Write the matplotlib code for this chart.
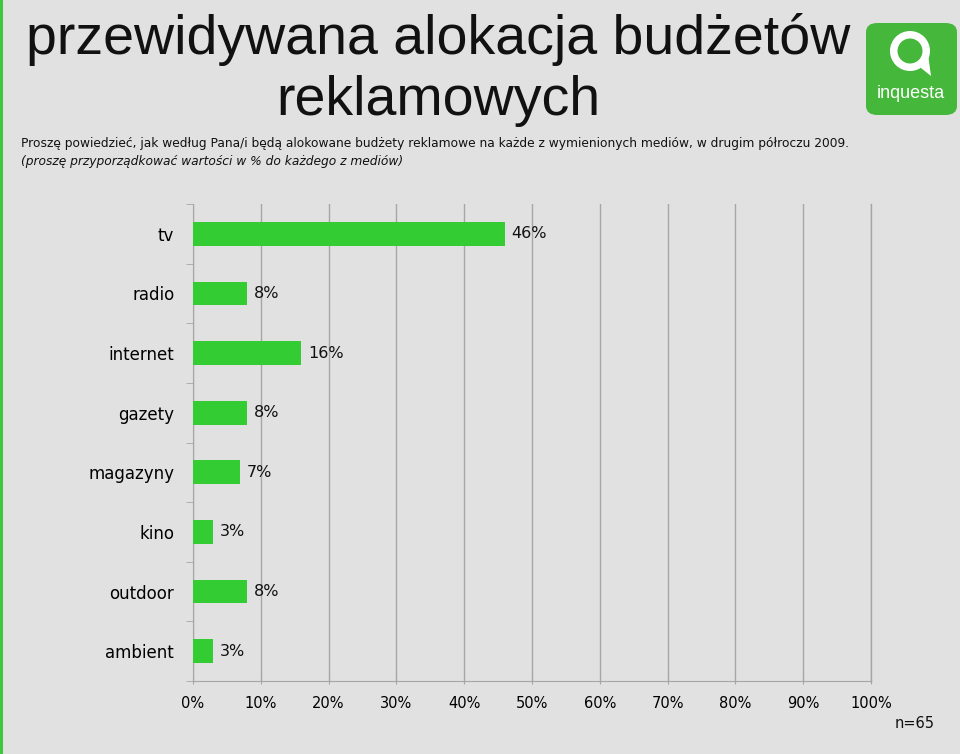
import matplotlib
matplotlib.use("Agg")
import matplotlib.pyplot as plt
from matplotlib.patches import FancyBboxPatch, Ellipse, Polygon, Rectangle
from matplotlib.font_manager import fontManager

categories = ["tv", "radio", "internet", "gazety", "magazyny", "kino", "outdoor", "ambient"]
values = [46, 8, 16, 8, 7, 3, 8, 3]
xticks = [0, 10, 20, 30, 40, 50, 60, 70, 80, 90, 100]
xtick_labels = [f"{v}%" for v in xticks]

title = "przewidywana alokacja budżetów\nreklamowych"
question = ("Proszę powiedzieć, jak według Pana/i będą alokowane budżety reklamowe na każde z "
            "wymienionych mediów, w drugim półroczu 2009.")
instruction = "(proszę przyporządkować wartości w % do każdego z mediów)"
note = "n=65"

names = {f.name for f in fontManager.ttflist}
narrow = "Liberation Sans Narrow" if "Liberation Sans Narrow" in names else "Liberation Sans"
body = ["DejaVu Sans"]

BG = "#e1e1e1"
GREEN = "#33cc33"
GRID = "#a6a6a6"
LOGO = "#45b83c"

fig = plt.figure(figsize=(9.6, 7.54), dpi=100, facecolor=BG)

# left green stripe
fig.patches.append(Rectangle((0, 0), 3 / 960, 1, transform=fig.transFigure,
                             facecolor="#3ec83e", edgecolor="none"))

ax = fig.add_axes([193 / 960, 1 - 681 / 754, (871 - 193) / 960, (681 - 204) / 754])
ax.set_facecolor(BG)
n = len(categories)
ypos = list(range(n))
ax.barh(ypos, values, height=0.4, color=GREEN, zorder=3)
ax.set_xlim(0, 100)
ax.set_ylim(n - 0.5, -0.5)
ax.set_xticks(xticks)
ax.set_xticklabels(xtick_labels, fontsize=10.5, family=body)
ax.set_yticks(ypos)
ax.set_yticklabels(categories, fontsize=12, family=body)
ax.set_yticks([i - 0.5 for i in range(n + 1)], minor=True)
ax.tick_params(axis="y", which="major", length=0, pad=13.5)
ax.tick_params(axis="y", which="minor", length=5, color=GRID, direction="out")
ax.tick_params(axis="x", which="major", length=5, color=GRID, direction="inout", pad=8)
ax.xaxis.grid(True, color=GRID, linewidth=1, zorder=0)
ax.axvline(100, color=GRID, linewidth=1, zorder=0, clip_on=False)
for s in ["top", "right"]:
    ax.spines[s].set_visible(False)
for s in ["left", "bottom"]:
    ax.spines[s].set_color(GRID)

for y, v in zip(ypos, values):
    ax.text(v + 1.0, y, f"{v}%", va="center", ha="left", fontsize=11.5, family=body, color="#111111")

# titles
fig.text(438 / 960, 1 - 70 / 754, title, ha="center", va="center", fontsize=40,
         family=[narrow, "DejaVu Sans"], color="#111111", linespacing=1.22)
fig.text(21 / 960, 1 - 143 / 754, question, ha="left", va="center", fontsize=8.8,
         family=body, color="#111111")
fig.text(21 / 960, 1 - 162 / 754, instruction, ha="left", va="center", fontsize=8.8,
         family=body, style="italic", color="#111111")
fig.text(935 / 960, 1 - 724 / 754, note, ha="right", va="center", fontsize=10.5,
         family=body, color="#111111")

# logo
lx0, ly0, lw, lh = 866, 23, 91, 92
fig.patches.append(FancyBboxPatch((lx0 / 960, 1 - (ly0 + lh) / 754), lw / 960, lh / 754,
                                  boxstyle="round,pad=0,rounding_size=0.012",
                                  transform=fig.transFigure, facecolor=LOGO, edgecolor="none"))
cx, cy = 910 / 960, 1 - 51 / 754
fig.patches.append(Polygon([(916 / 960, 1 - 64 / 754), (931 / 960, 1 - 76 / 754), (928 / 960, 1 - 54 / 754)],
                           closed=True, transform=fig.transFigure, facecolor="white", edgecolor="none"))
fig.patches.append(Ellipse((cx, cy), 40 / 960, 40 / 754, transform=fig.transFigure,
                           facecolor="white", edgecolor="none"))
fig.patches.append(Ellipse((cx, cy), 25 / 960, 25 / 754, transform=fig.transFigure,
                           facecolor=LOGO, edgecolor="none"))
fig.text(911 / 960, 1 - 93 / 754, "inquesta", ha="center", va="center", fontsize=13,
         family=[narrow, "DejaVu Sans"], color="white")

fig.savefig("out.png", dpi=100, facecolor=BG)
